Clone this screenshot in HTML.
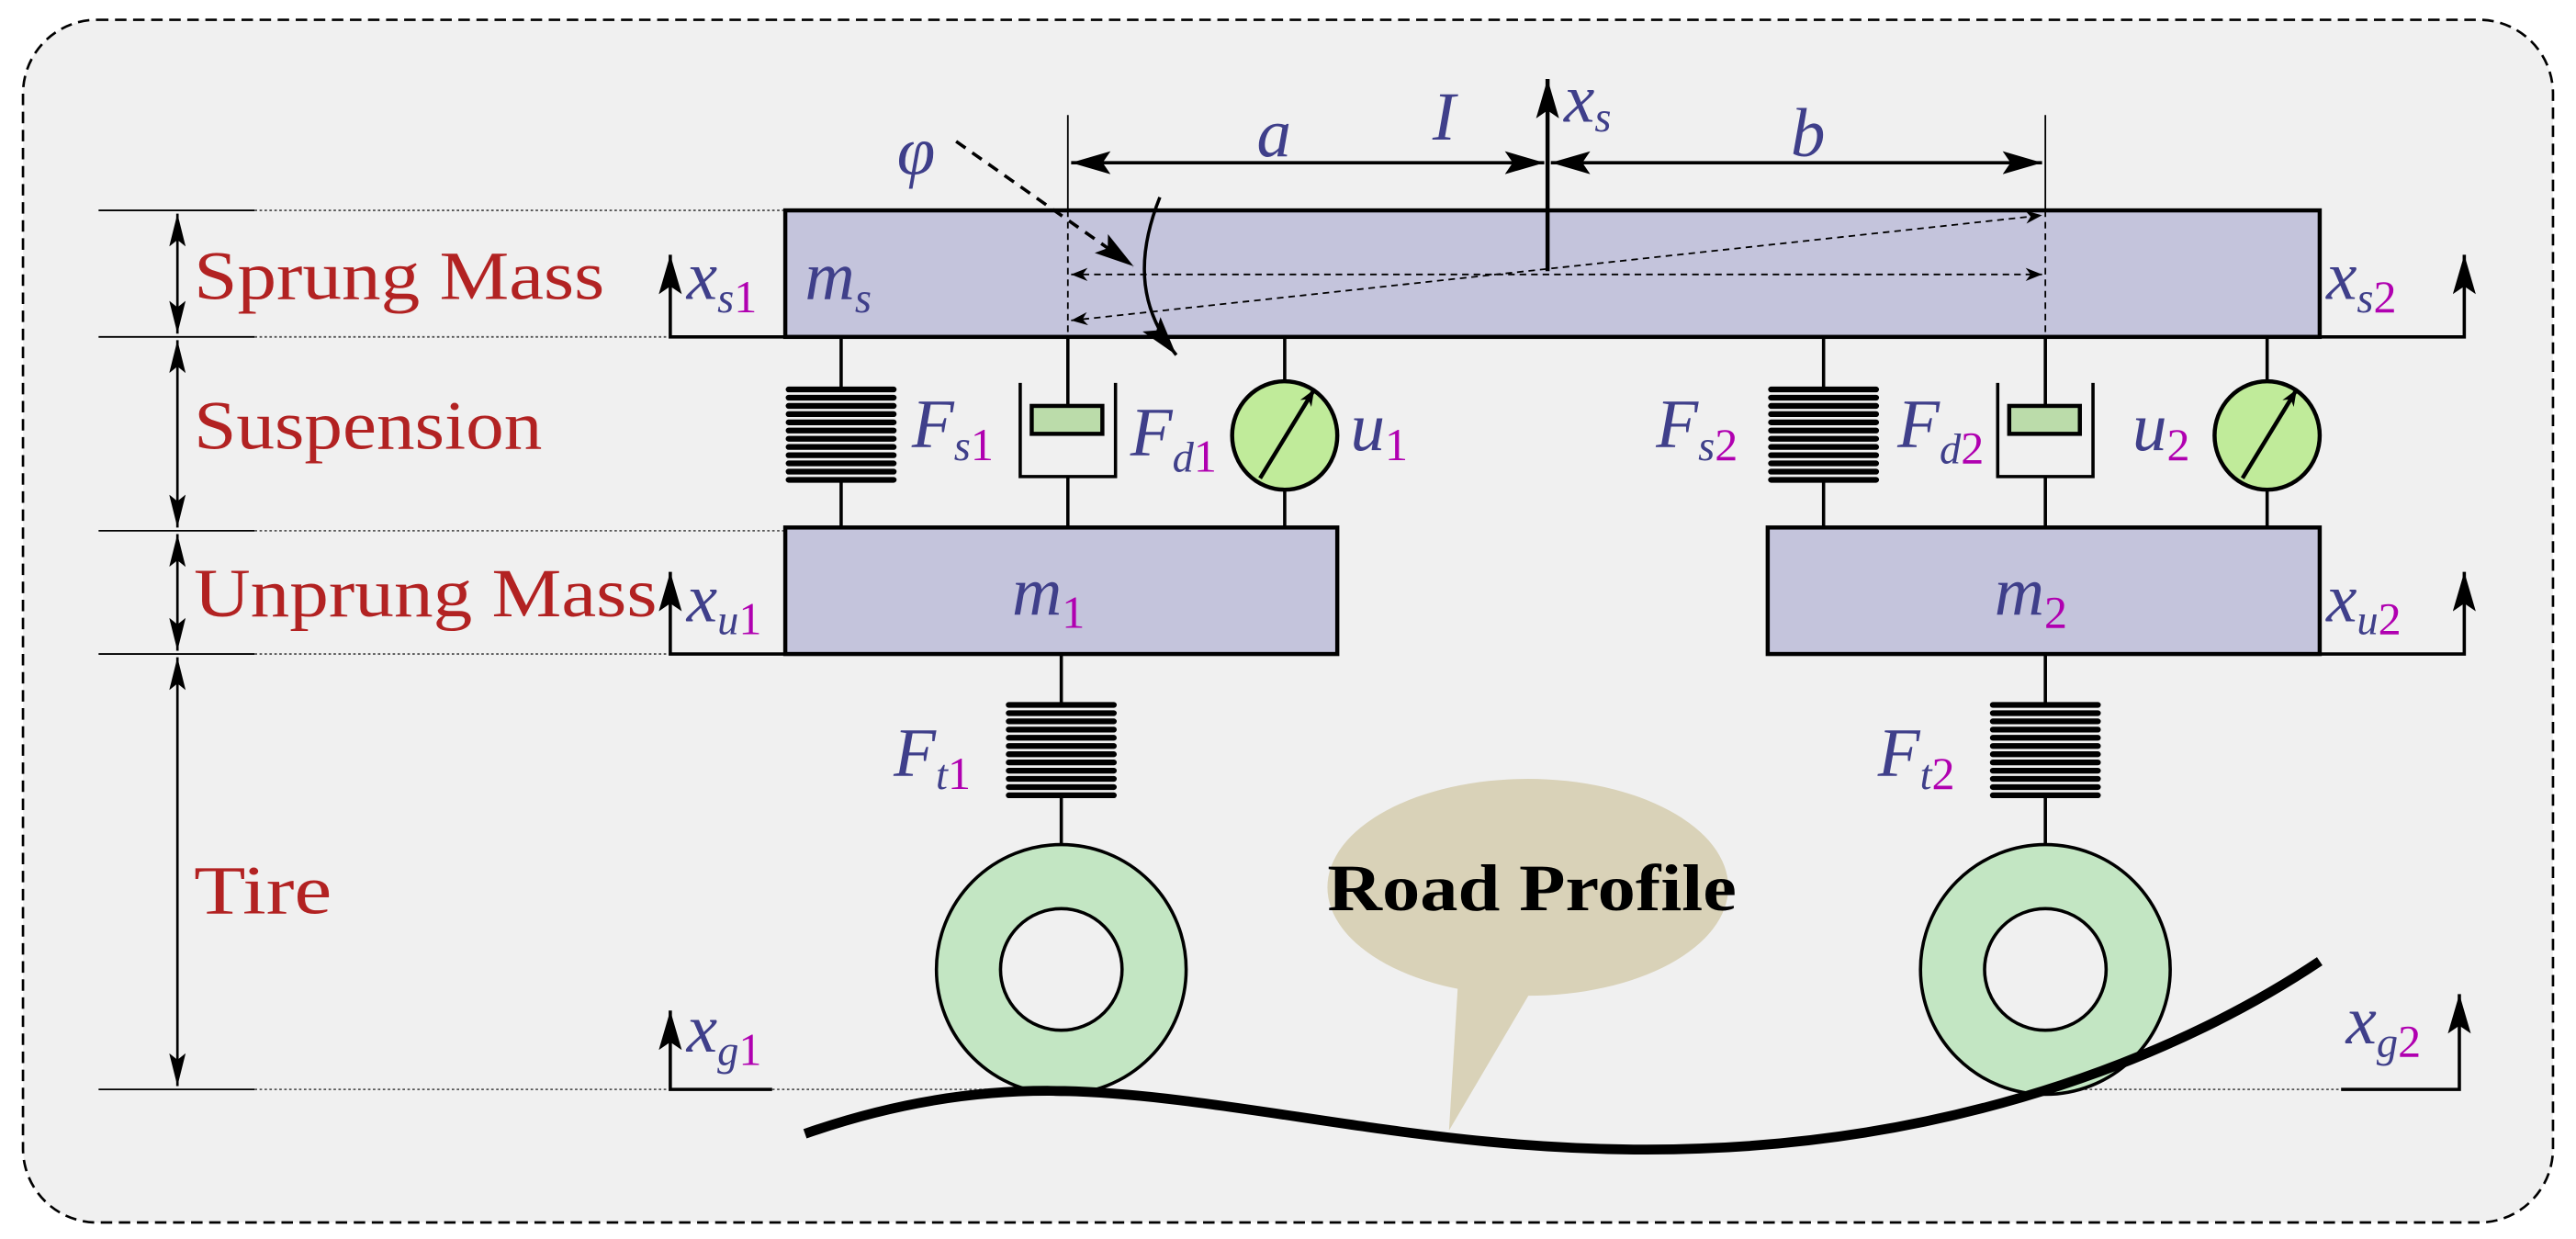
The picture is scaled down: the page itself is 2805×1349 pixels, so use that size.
<!DOCTYPE html>
<html><head><meta charset="utf-8"><style>
html,body{margin:0;padding:0;background:#fff;}
svg{display:block;}
.t{font-family:"Liberation Serif",serif;font-style:italic;fill:#3f3f8a;}
.m{fill:#b000b0;font-style:normal;}
.r{font-family:"Liberation Serif",serif;fill:#b22222;font-size:42px;}
</style></head><body>
<svg width="2805" height="1349" viewBox="0 0 1568 754" xmlns="http://www.w3.org/2000/svg">
<defs>
<marker id="ahb" viewBox="0 0 10 10" refX="10" refY="5" markerWidth="24" markerHeight="14" orient="auto-start-reverse" markerUnits="userSpaceOnUse" preserveAspectRatio="none"><path d="M0,0 L10,5 L0,10 L2,5 Z" fill="#000"/></marker>
<marker id="ahv" viewBox="0 0 10 10" refX="10" refY="5" markerWidth="20" markerHeight="10" orient="auto-start-reverse" markerUnits="userSpaceOnUse" preserveAspectRatio="none"><path d="M0,0 L10,5 L0,10 L2,5 Z" fill="#000"/></marker>
<marker id="ahs" viewBox="0 0 10 10" refX="10" refY="5" markerWidth="10" markerHeight="8" orient="auto-start-reverse" markerUnits="userSpaceOnUse" preserveAspectRatio="none"><path d="M0,0 L10,5 L0,10 L3,5 Z" fill="#000"/></marker>
<g id="spr">
<path d="M-32,0 h64 M-32,5 h64 M-32,10 h64 M-32,15 h64 M-32,20 h64 M-32,25 h64 M-32,30 h64 M-32,35 h64 M-32,40 h64 M-32,45 h64 M-32,50 h64 M-32,55 h64" stroke="#000" stroke-width="3.5" stroke-linecap="round"/>
</g>
</defs>
<rect x="14" y="12" width="1540" height="732" rx="45" fill="#f0f0f0" stroke="#000" stroke-width="1.5" stroke-dasharray="7,4"/>

<g stroke="#000" stroke-width="1">
<path d="M60,128 h95 M60,205 h95 M60,323 h95 M60,398 h95 M60,663 h95"/>
</g>
<g stroke="#555" stroke-width="1" stroke-dasharray="1.5,1.5">
<path d="M155,128 h325 M155,205 h255 M155,323 h325 M155,398 h255 M155,663 h255 M470,663 h170 M1260,663 h165"/>
</g>
<g stroke="#000" stroke-width="1.5">
<line x1="108" y1="130" x2="108" y2="203" marker-start="url(#ahv)" marker-end="url(#ahv)"/>
<line x1="108" y1="207" x2="108" y2="321" marker-start="url(#ahv)" marker-end="url(#ahv)"/>
<line x1="108" y1="325" x2="108" y2="396" marker-start="url(#ahv)" marker-end="url(#ahv)"/>
<line x1="108" y1="400" x2="108" y2="661" marker-start="url(#ahv)" marker-end="url(#ahv)"/>
</g>
<text class="r" x="118" y="182" textLength="250" lengthAdjust="spacingAndGlyphs">Sprung Mass</text>
<text class="r" x="118" y="273" textLength="212" lengthAdjust="spacingAndGlyphs">Suspension</text>
<text class="r" x="118" y="375" textLength="282" lengthAdjust="spacingAndGlyphs">Unprung Mass</text>
<text class="r" x="118" y="556" textLength="84" lengthAdjust="spacingAndGlyphs">Tire</text>

<rect x="478" y="128" width="934" height="77" fill="#c4c4dc" stroke="#000" stroke-width="2.5"/>
<rect x="478" y="321" width="336" height="77" fill="#c4c4dc" stroke="#000" stroke-width="2.5"/>
<rect x="1076" y="321" width="336" height="77" fill="#c4c4dc" stroke="#000" stroke-width="2.5"/>

<g stroke="#000" stroke-width="2" fill="none">
<path d="M478,205 H408 V155" marker-end="url(#ahb)"/>
<path d="M1412,205 H1500 V155" marker-end="url(#ahb)"/>
<path d="M478,398 H408 V348" marker-end="url(#ahb)"/>
<path d="M1412,398 H1500 V348" marker-end="url(#ahb)"/>
<path d="M470,663 H408 V615" marker-end="url(#ahb)"/>
<path d="M1425,663 H1497 V605" marker-end="url(#ahb)"/>
</g>

<g stroke="#000" stroke-width="2" fill="none">
<path d="M512,205 V236 M512,292 V321"/>
<path d="M650,205 V248 M621,233 V290 H679 V233 M650,290 V321"/>
<path d="M782,205 V232 M782,298 V321"/>
<path d="M1110,205 V236 M1110,292 V321"/>
<path d="M1245,205 V248 M1216,233 V290 H1274 V233 M1245,290 V321"/>
<path d="M1380,205 V232 M1380,298 V321"/>
<path d="M646,398 V428 M646,485 V518"/>
<path d="M1245,398 V428 M1245,485 V518"/>
</g>
<use href="#spr" x="512" y="237"/>
<use href="#spr" x="1110" y="237"/>
<use href="#spr" x="646" y="429"/>
<use href="#spr" x="1245" y="429"/>
<rect x="628" y="247" width="43" height="17" fill="#bbdcaa" stroke="#000" stroke-width="2.5"/>
<rect x="1223" y="247" width="43" height="17" fill="#bbdcaa" stroke="#000" stroke-width="2.5"/>
<ellipse cx="782" cy="265" rx="32" ry="33" fill="#c0eb9a" stroke="#000" stroke-width="2.5"/>
<ellipse cx="1380" cy="265" rx="32" ry="33" fill="#c0eb9a" stroke="#000" stroke-width="2.5"/>
<line x1="767" y1="291" x2="800" y2="237" stroke="#000" stroke-width="2.5" marker-end="url(#ahs)"/>
<line x1="1365" y1="291" x2="1398" y2="237" stroke="#000" stroke-width="2.5" marker-end="url(#ahs)"/>

<circle cx="646" cy="590" r="76" fill="#c3e6c3" stroke="#000" stroke-width="2"/>
<circle cx="646" cy="590" r="37" fill="#f0f0f0" stroke="#000" stroke-width="2"/>
<circle cx="1245" cy="590" r="76" fill="#c3e6c3" stroke="#000" stroke-width="2"/>
<circle cx="1245" cy="590" r="37" fill="#f0f0f0" stroke="#000" stroke-width="2"/>

<ellipse cx="930" cy="540" rx="122" ry="66" fill="#d9d2b8"/>
<path d="M888,590 L882,688 L935,598 Z" fill="#d9d2b8"/>
<text x="808" y="554" textLength="249" lengthAdjust="spacingAndGlyphs" font-family="Liberation Serif,serif" font-weight="bold" font-size="40" fill="#000">Road Profile</text>

<path d="M490,690 Q570,662 648,664 C760,667 880,705 1035,699 C1200,693 1330,640 1412,585" fill="none" stroke="#000" stroke-width="6"/>

<g stroke="#000" stroke-width="1">
<path d="M650,70 V128 M1245,70 V128"/>
</g>
<g stroke="#000" stroke-width="1" stroke-dasharray="4,3" fill="none">
<path d="M650,128 V205 M1245,128 V205"/>
<line x1="652" y1="167" x2="1243" y2="167" marker-start="url(#ahs)" marker-end="url(#ahs)"/>
<line x1="652" y1="195" x2="1243" y2="131" marker-start="url(#ahs)" marker-end="url(#ahs)"/>
</g>
<line x1="652" y1="99" x2="940" y2="99" stroke="#000" stroke-width="2" marker-start="url(#ahb)" marker-end="url(#ahb)"/>
<line x1="944" y1="99" x2="1243" y2="99" stroke="#000" stroke-width="2" marker-start="url(#ahb)" marker-end="url(#ahb)"/>
<line x1="942" y1="165" x2="942" y2="48" stroke="#000" stroke-width="2.5" marker-end="url(#ahb)"/>
<line x1="582" y1="86" x2="690" y2="162" stroke="#000" stroke-width="2" stroke-dasharray="7,5" marker-end="url(#ahb)"/>
<path d="M706,120 C690,160 695,190 716,216" fill="none" stroke="#000" stroke-width="2" marker-end="url(#ahb)"/>

<g class="t" font-size="42">
<text x="546" y="106">φ</text>
<text x="765" y="95">a</text>
<text x="872" y="85">I</text>
<text x="1090" y="95">b</text>
<text x="952" y="74">x<tspan font-size="26" dy="6">s</tspan></text>
<text x="418" y="182">x<tspan font-size="26" dy="8">s</tspan><tspan class="m" font-size="28">1</tspan></text>
<text x="490" y="182">m<tspan font-size="26" dy="8">s</tspan></text>
<text x="1416" y="182">x<tspan font-size="26" dy="8">s</tspan><tspan class="m" font-size="28">2</tspan></text>
<text x="418" y="378">x<tspan font-size="26" dy="8">u</tspan><tspan class="m" font-size="28">1</tspan></text>
<text x="1416" y="378">x<tspan font-size="26" dy="8">u</tspan><tspan class="m" font-size="28">2</tspan></text>
<text x="418" y="640">x<tspan font-size="26" dy="8">g</tspan><tspan class="m" font-size="28">1</tspan></text>
<text x="1428" y="635">x<tspan font-size="26" dy="8">g</tspan><tspan class="m" font-size="28">2</tspan></text>
<text x="616" y="374">m<tspan class="m" font-size="28" dy="8">1</tspan></text>
<text x="1214" y="374">m<tspan class="m" font-size="28" dy="8">2</tspan></text>
<text x="555" y="272">F<tspan font-size="26" dy="8">s</tspan><tspan class="m" font-size="28">1</tspan></text>
<text x="688" y="277">F<tspan font-size="26" dy="10">d</tspan><tspan class="m" font-size="28">1</tspan></text>
<text x="822" y="274">u<tspan class="m" font-size="28" dy="6">1</tspan></text>
<text x="1008" y="272">F<tspan font-size="26" dy="8">s</tspan><tspan class="m" font-size="28">2</tspan></text>
<text x="1155" y="272">F<tspan font-size="26" dy="10">d</tspan><tspan class="m" font-size="28">2</tspan></text>
<text x="1298" y="274">u<tspan class="m" font-size="28" dy="6">2</tspan></text>
<text x="544" y="472">F<tspan font-size="26" dy="8">t</tspan><tspan class="m" font-size="28">1</tspan></text>
<text x="1143" y="472">F<tspan font-size="26" dy="8">t</tspan><tspan class="m" font-size="28">2</tspan></text>
</g>
</svg>
</body></html>
